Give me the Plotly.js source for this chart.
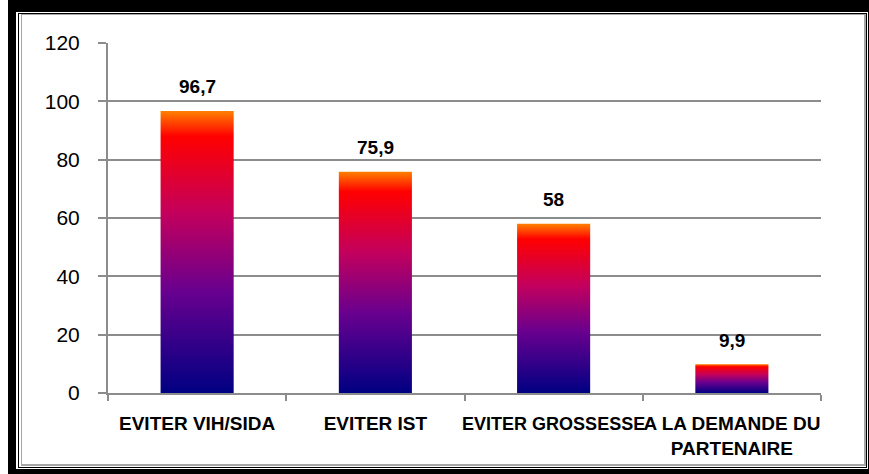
<!DOCTYPE html>
<html>
<head>
<meta charset="utf-8">
<script src="https://cdn.plot.ly/plotly-3.0.1.min.js"></script>
<style>
  html, body { margin: 0; padding: 0; background: #ffffff; }
  #wrap { position: relative; width: 869px; height: 474px; overflow: hidden; }
  .frame { position: absolute; box-sizing: border-box; }
  #f1 { left: 8px; top: 0px; width: 861px; height: 474px; background: #000000; }
  #f2 { left: 16px; top: 12px; width: 852px; height: 457px; background: #ffffff; }
  #f3 { left: 18px; top: 13px; width: 849px; height: 455px; border: 1px solid #000000; background: #ffffff; }
  #f4 { left: 21px; top: 14px; width: 845px; height: 452px; border: 2px solid #a6a6a6; border-top-width: 1px; border-left-width: 1px; background: #ffffff; }
  #chart { position: absolute; left: 0; top: 0; width: 869px; height: 474px; }
</style>
</head>
<body>
<div id="wrap">
  <div class="frame" id="f1"></div>
  <div class="frame" id="f2"></div>
  <div class="frame" id="f3"></div>
  <div class="frame" id="f4"></div>
  <div id="chart"></div>
</div>
<script>
const categories = ["EVITER VIH/SIDA", "EVITER IST", "EVITER GROSSESSE", "A LA DEMANDE DU<br>PARTENAIRE"];
const values = [96.7, 75.9, 58, 9.9];
const valueLabels = ["96,7", "75,9", "58", "9,9"];
const yTicks = [0, 20, 40, 60, 80, 100, 120];

const barHalfWidth = 0.205;
const gradient = [
  [0, '#000082'],
  [0.36, '#68008f'],
  [0.64, '#c4005c'],
  [0.78, '#e2002c'],
  [0.91, '#ff0000'],
  [1, '#ff8000']
];
// per-label font size tweak so adjacent long labels just touch, as in the reference
const labelFontSizes = [19, 19, 18, 19];

const positions = categories.map((c, i) => i);

const traces = values.map((v, i) => ({
  type: 'scatter',
  mode: 'lines',
  x: [positions[i] - barHalfWidth, positions[i] - barHalfWidth, positions[i] + barHalfWidth, positions[i] + barHalfWidth, positions[i] - barHalfWidth],
  y: [0, v, v, 0, 0],
  fill: 'toself',
  fillgradient: { type: 'vertical', colorscale: gradient },
  line: { width: 0, color: 'rgba(0,0,0,0)' },
  hoverinfo: 'skip',
  showlegend: false
}));

const annotations = values.map((v, i) => ({
  x: positions[i], y: v, xref: 'x', yref: 'y',
  text: valueLabels[i], showarrow: false,
  yanchor: 'middle', yshift: 24,
  font: { family: 'Liberation Sans, Arial, sans-serif', size: 19, color: '#000000', weight: 'bold' }
}));

const layout = {
  width: 869, height: 474,
  margin: { l: 108, r: 48, t: 43, b: 81 },
  paper_bgcolor: 'rgba(0,0,0,0)',
  plot_bgcolor: 'rgba(0,0,0,0)',
  showlegend: false,
  xaxis: {
    range: [-0.5, categories.length - 0.5],
    tickmode: 'array',
    tickvals: positions,
    ticktext: categories.map((c, i) => '<span style="font-size:' + labelFontSizes[i] + 'px"><b>' + c + '</b></span>'),
    tickangle: 0,
    ticks: '',
    showgrid: false,
    zeroline: false,
    showline: true, linecolor: '#8c8c8c', linewidth: 2,
    tickfont: { family: 'Liberation Sans, Arial, sans-serif', size: 19, color: '#000000' },
    ticklabelstandoff: 12,
    minor: { tickmode: 'array', tickvals: [-0.5, 0.5, 1.5, 2.5, 3.5], ticks: 'outside', ticklen: 6, tickwidth: 2, tickcolor: '#8c8c8c', showgrid: false },
    automargin: false,
    fixedrange: true
  },
  yaxis: {
    range: [0, 120],
    tickmode: 'array',
    tickvals: yTicks,
    ticktext: yTicks.map(String),
    ticks: 'outside', ticklen: 8, tickwidth: 2, tickcolor: '#8c8c8c',
    showgrid: true, gridcolor: '#8c8c8c', gridwidth: 2,
    zeroline: false,
    showline: true, linecolor: '#8c8c8c', linewidth: 2,
    tickfont: { family: 'Liberation Sans, Arial, sans-serif', size: 21, color: '#000000' },
    ticklabelstandoff: 14,
    automargin: false,
    fixedrange: true
  },
  annotations: annotations
};

Plotly.newPlot('chart', traces, layout, { displayModeBar: false, staticPlot: true });
</script>
</body>
</html>
